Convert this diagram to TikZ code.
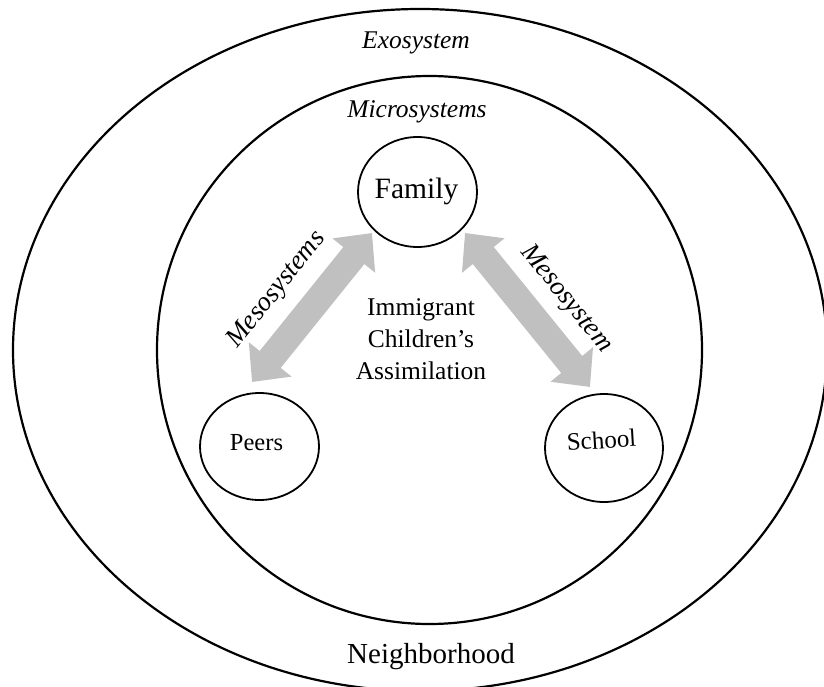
\documentclass[tikz,border=0pt]{standalone}
\usepackage{fontspec}
\setmainfont{Liberation Serif}
\usetikzlibrary{shapes.geometric,arrows.meta}
\definecolor{arrowgray}{RGB}{192,192,192}
\begin{document}
\begin{tikzpicture}[x=1pt,y=-1pt,
  sysring/.style={draw, ellipse, line width=2.2pt, inner sep=0pt},
  micro/.style={draw, ellipse, line width=1.8pt, inner sep=0pt},
  mesoarrow/.style={line width=27pt, draw=arrowgray,
    {Triangle[length=29pt,width=53pt]}-{Triangle[length=29pt,width=53pt]}},
  lbl/.style={inner sep=0pt, anchor=base},
  bigtxt/.style={font=\fontsize{29}{34}\selectfont},
  midtxt/.style={font=\fontsize{25.5}{32}\selectfont},
  ringtxt/.style={font=\fontsize{25.5}{32}\selectfont\itshape},
  mesotxt/.style={inner sep=0pt, font=\fontsize{27}{32}\selectfont\itshape}
]
\useasboundingbox (0,0) rectangle (824,687);

% system rings
\node[sysring, minimum width=814pt, minimum height=682pt] (exo) at (420,350) {};
\node[sysring, minimum width=545pt, minimum height=548pt] (mic) at (429.5,350) {};

% ring labels
\node[lbl, ringtxt] (exolbl) at (416,49) {Exosystem};
\node[lbl, ringtxt] (miclbl) at (417,118) {Microsystems};
\node[lbl, bigtxt] (neigh) at (431,663) {Neighborhood};

% microsystem circles
\node[micro, minimum width=119pt, minimum height=110pt] (family) at (417.5,192) {};
\node[micro, minimum width=119pt, minimum height=107pt] (peers) at (259.5,446.5) {};
\node[micro, minimum width=118pt, minimum height=108pt] (school) at (604,448) {};

\node[lbl, font=\fontsize{29.5}{34}\selectfont] (familylbl) at (416.5,198) {Family};
\node[lbl, font=\fontsize{24.5}{30}\selectfont] (peerslbl) at (256.5,450) {Peers};
\node[lbl, font=\fontsize{25}{30}\selectfont, rotate=3.5] (schoollbl) at (602,448.5) {School};

% centre text
\node[inner sep=0pt, align=center, midtxt] (centre) at (421,339.5)
  {Immigrant\\Children’s\\Assimilation};

% mesosystem arrows
\coordinate (lp) at (252,382);
\coordinate (lf) at (372,233);
\coordinate (rf) at (465,233);
\coordinate (rs) at (590,387);
\draw[mesoarrow] (lp) -- (lf);
\draw[mesoarrow] (rf) -- (rs);

\node[mesotxt, rotate=51.2] (mesoL) at (277,290) {Mesosystems};
\node[mesotxt, rotate=-50.9] (mesoR) at (566,299) {Mesosystem};
\end{tikzpicture}
\end{document}
